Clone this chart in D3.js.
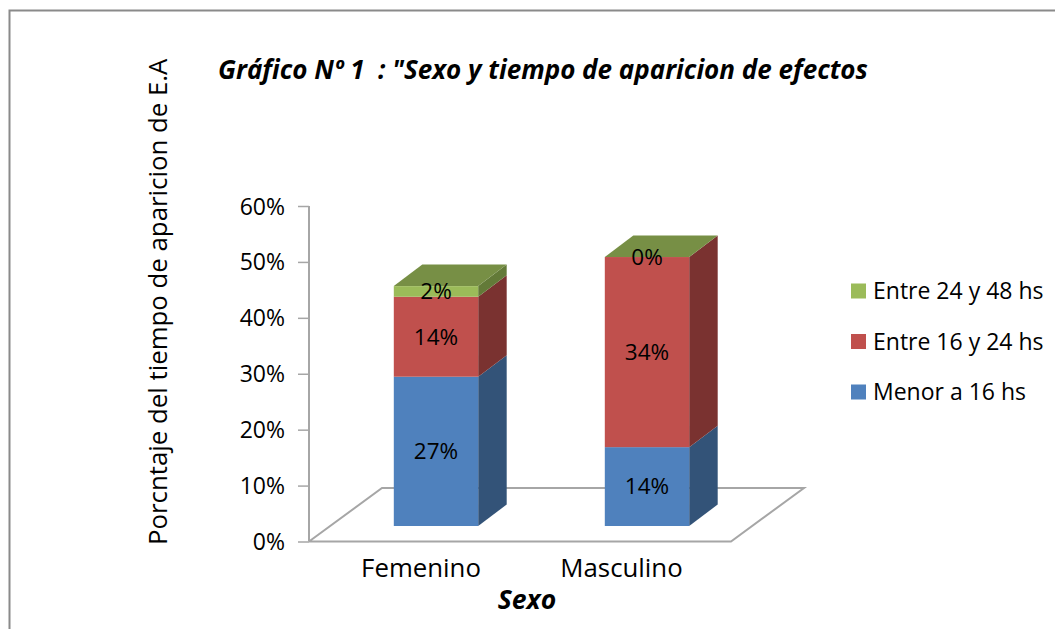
<!DOCTYPE html>
<html><head><meta charset="utf-8">
<script src="https://cdn.jsdelivr.net/npm/d3@7"></script>
<style>html,body{margin:0;padding:0;background:#fff}svg{display:block}text{font-family:"Open Sans",Lato,sans-serif;fill:#000}</style>
</head><body><svg id="c" width="1055" height="629"></svg>
<script>
const categories = ["Femenino", "Masculino"];
const seriesNames = ["Menor a 16 hs", "Entre 16 y 24 hs", "Entre 24 y 48 hs"];
const menor16 = [26.7, 14.1];
const entre16y24 = [14.3, 34.0];
const entre24y48 = [1.9, 0];
const dataLabels = [["27%", "14%"], ["14%", "34%"], ["2%", "0%"]];
const yTicks = [0, 10, 20, 30, 40, 50, 60];
const frontColors = ["#4f81bd", "#c0504d", "#9bbb59"];
const sideColors = ["#335378", "#7a3230", "#637a38"];
const topColor = "#778f45";
const titleText = "Gráfico Nº 1  : \"Sexo y tiempo de aparicion de efectos";
const yTitle = "Porcntaje del tiempo de aparicion de E.A";
const xTitle = "Sexo";

const svg = d3.select("#c");
svg.append("path").attr("d","M9.5,629V10.5H1055").attr("fill","none").attr("stroke","#8a8a8a").attr("stroke-width",2);

const y = d3.scaleLinear().domain([0,60]).range([541.5,206]);
const x = d3.scaleBand().domain(categories).range([309,731]).paddingInner(0.6).paddingOuter(0.3);
const floorDX = 73, floorDY = -53.5;
const gray = "#a6a6a6";

svg.append("path").attr("d",d3.line()([[309,y(0)],[731,y(0)],[731+floorDX,y(0)+floorDY],[309+floorDX,y(0)+floorDY],[309,y(0)]]))
  .attr("fill","none").attr("stroke",gray).attr("stroke-width",2);

const axis = d3.axisLeft(y).tickValues(yTicks).tickSize(11).tickFormat(d=>d+"%");
const ga = svg.append("g").attr("transform","translate(309,0)").call(axis);
ga.selectAll("path.domain").remove();
ga.selectAll("line").attr("stroke",gray).attr("stroke-width",1.5);
ga.selectAll("text").attr("font-size",23).attr("x",-24).attr("dy","0.35em").attr("font-family","'Open Sans'");
svg.append("line").attr("x1",309).attr("x2",309).attr("y1",y(60)).attr("y2",y(0)).attr("stroke",gray).attr("stroke-width",2);

const series = [menor16, entre16y24, entre24y48];
const fx0 = 21.5, fy0 = -15.5;
const dx = 28.5, dy = -21.5;
categories.forEach((c,i)=>{
  let acc = 0;
  const xl = x(c)+fx0, xr = xl+x.bandwidth();
  const g = svg.append("g");
  series.forEach((s,k)=>{
    const b = y(acc)+fy0, t = y(acc+s[i])+fy0;
    g.append("path").attr("d",d3.line()([[xr,b],[xr+dx,b+dy],[xr+dx,t+dy],[xr,t]])).attr("fill",sideColors[k]);
    g.append("rect").attr("x",xl).attr("y",t).attr("width",x.bandwidth()).attr("height",b-t).attr("fill",frontColors[k]);
    acc += s[i];
  });
  const top = y(acc)+fy0;
  g.append("path").attr("d",d3.line()([[xl,top],[xl+dx,top+dy],[xr+dx,top+dy],[xr,top]])).attr("fill",topColor);
  acc = 0;
  series.forEach((s,k)=>{
    const mid = (y(acc)+y(acc+s[i]))/2+fy0;
    g.append("text").attr("x",(xl+xr)/2).attr("y",mid).attr("dy","0.35em").attr("text-anchor","middle")
      .attr("font-size",22.5).text(dataLabels[k][i]);
    acc += s[i];
  });
});

const catCenter = {Femenino: 6.5, Masculino: -4};
categories.forEach(c=>{
  svg.append("text").attr("x",x(c)+x.bandwidth()/2+catCenter[c]).attr("y",577).attr("text-anchor","middle").attr("font-size",25.8).text(c);
});
svg.append("text").attr("x",527).attr("y",609).attr("text-anchor","middle").attr("font-size",26.5).attr("font-weight",700).attr("font-style","italic").text(xTitle);
svg.append("text").attr("x",218).attr("y",79).attr("font-size",26).attr("font-weight",700).attr("font-style","italic").style("white-space","pre").text(titleText);
svg.append("text").attr("transform","translate(167,545) rotate(-90)").attr("font-size",25.8).text(yTitle);

const legend = [2,1,0];
const legY = d3.scalePoint().domain(legend).range([291,392]);
legend.forEach(k=>{
  svg.append("rect").attr("x",851).attr("y",legY(k)-7.5).attr("width",15).attr("height",15).attr("fill",frontColors[k]);
  svg.append("text").attr("x",873).attr("y",legY(k)).attr("dy","0.35em").attr("font-size",23).text(seriesNames[k]);
});
</script></body></html>
